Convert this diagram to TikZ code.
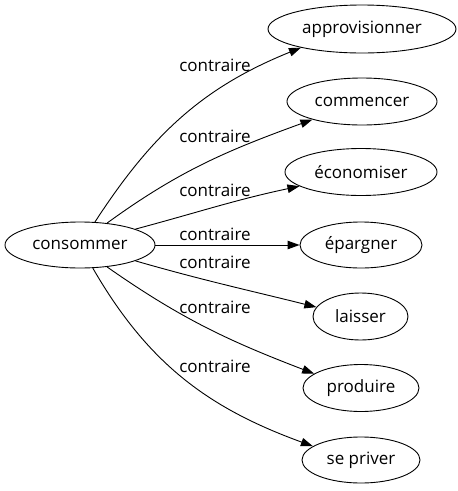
\documentclass[tikz,border=0pt]{standalone}
\usepackage{fontspec}
\setmainfont{Open Sans}
\usetikzlibrary{arrows.meta,shapes.geometric}
\begin{document}
\begin{tikzpicture}[x=1pt,y=-1pt,
  word/.style={draw,ellipse,inner sep=0pt,line width=0.9pt,font=\fontsize{17}{20}\selectfont},
  lbl/.style={inner sep=0pt,font=\fontsize{17}{20}\selectfont},
  rel/.style={line width=0.9pt,-{Triangle[length=12pt,width=8.5pt]}}]
\useasboundingbox (0,0) rectangle (458,491);
\node[word,minimum width=150pt,minimum height=46pt] (cons) at (80,245) {consommer};
\node[word,minimum width=188pt,minimum height=48pt] (appr) at (362,29) {approvisionner};
\node[word,minimum width=150pt,minimum height=47pt] (comm) at (362,101.5) {commencer};
\node[word,minimum width=152pt,minimum height=47pt] (econ) at (361,172) {économiser};
\node[word,minimum width=122pt,minimum height=46pt] (epar) at (361,245) {épargner};
\node[word,minimum width=95pt,minimum height=47pt] (lais) at (360.5,316.5) {laisser};
\node[word,minimum width=116pt,minimum height=47pt] (prod) at (361,388) {produire};
\node[word,minimum width=118pt,minimum height=46pt] (sepr) at (361,460) {se priver};
\node[lbl] (l1) at (215,65) {contraire};
\node[lbl] (l2) at (215,136) {contraire};
\node[lbl] (l3) at (215,190) {contraire};
\node[lbl] (l4) at (215,234) {contraire};
\node[lbl] (l5) at (215,262) {contraire};
\node[lbl] (l6) at (215,307) {contraire};
\node[lbl] (l7) at (215,366) {contraire};
\draw[rel] (cons.57) to[out=57,in=202] (appr.197);
\draw[rel] (cons.39) to[out=36,in=200] (comm.200);
\draw[rel] (cons.16) to[out=15,in=192] (econ.193);
\draw[rel] (cons.0) -- (epar.180);
\draw[rel] (cons.-16) to[out=-16,in=166] (lais.168);
\draw[rel] (cons.-39) to[out=-35,in=159] (prod.163);
\draw[rel] (cons.-61) to[out=-60,in=160] (sepr.164);
\end{tikzpicture}
\end{document}
